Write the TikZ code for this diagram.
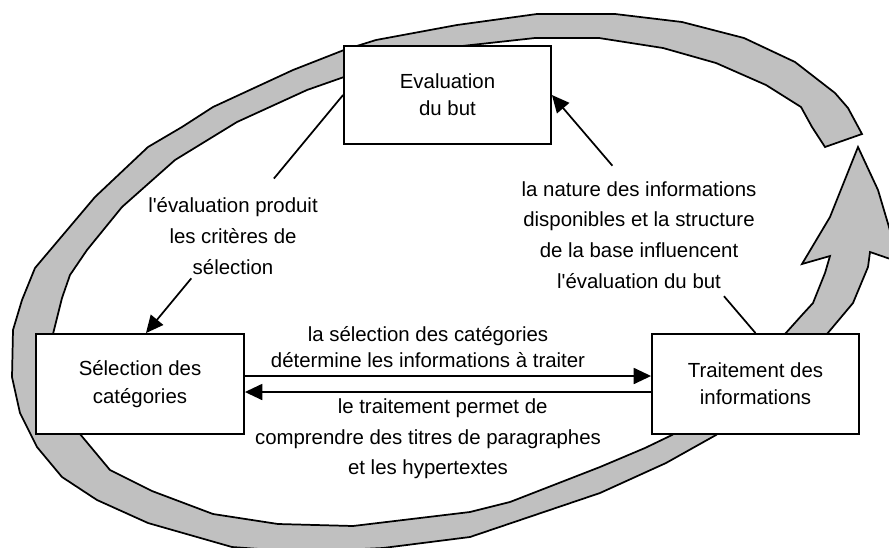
\documentclass[tikz,border=0pt]{standalone}
\usepackage{fontspec}
\setmainfont{Liberation Sans}[Ligatures=TeXOff]
\usetikzlibrary{arrows.meta,calc}
\definecolor{bandgrey}{RGB}{192,192,192}
\begin{document}
\begin{tikzpicture}[x=0.75pt,y=-0.75pt,
  box/.style={draw=black,line width=1.4pt,fill=white,align=center,inner sep=0pt,font=\fontsize{15.3}{20.5}\selectfont},
  lbl/.style={align=center,inner sep=1pt,font=\fontsize{15.3}{23}\selectfont},
  conn/.style={draw=black,line width=1.3pt},
  arr/.style={conn,-{Triangle[length=13pt,width=12pt]}},
  band/.style={draw=black,line width=1.3pt,fill=bandgrey,line join=miter}]
\useasboundingbox (0,0) rectangle (889,547);
\fill[white] (0,0) rectangle (889,547);
% big grey cycle arrow
\draw[band] (862,134) -- (848,108) -- (835,93) -- (795,62) -- (744,38) -- (682,22) -- (615,14) -- (537,14) -- (457,25) -- (376,40) -- (344,50) -- (293,70) -- (213,107) -- (182,127) -- (148,147) -- (95,197) -- (35,268) -- (22,300) -- (13,330) -- (12,377) -- (20,413) -- (37,447) -- (62,477) -- (97,500) -- (148,523) -- (232,547) -- (300,552) -- (383,548) -- (470,537) -- (600,493) -- (666,463) -- (716,435) -- (790,370) -- (827,334) -- (853,303) -- (868,267) -- (870,252) -- (899,262) -- (889,227) -- (878,190) -- (858,147) -- (830,217) -- (802,264) -- (830,256) -- (825,273) -- (813,303) -- (802,315) -- (785,334) -- (740,390) -- (672,435) -- (645,448) -- (600,467) -- (510,502) -- (470,512) -- (353,526) -- (278,524) -- (213,514) -- (152,491) -- (110,470) -- (80,434) -- (60,380) -- (53,334) -- (62,298) -- (70,275) -- (87,250) -- (122,207) -- (175,160) -- (237,122) -- (307,90) -- (344,77) -- (400,60) -- (453,47) -- (535,38) -- (599,38) -- (663,48) -- (716,63) -- (766,85) -- (801,107) -- (812,127) -- (825,147) -- cycle;
% boxes
\node[box,minimum width=155.25pt,minimum height=73.5pt] (eval) at (447.5,95) {Evaluation\\du but};
\node[box,minimum width=156pt,minimum height=75pt] (sel) at (140,384) {Sélection des\\catégories};
\node[box,minimum width=155.25pt,minimum height=75pt] (trait) at (755.5,384) {Traitement des\\informations};
% labels
\node[lbl] (lblL) at (233,236) {l'évaluation produit\\les critères de\\sélection};
\node[lbl] (lblR) at (639,235) {la nature des informations\\disponibles et la structure\\de la base influencent\\l'évaluation du but};
\node[lbl,font=\fontsize{15.3}{19.5}\selectfont] (lblT) at (428,347) {la sélection des catégories\\détermine les informations à traiter};
\node[lbl] (lblB) at (428,439) {\hspace*{22pt}le traitement permet de\\comprendre des titres de paragraphes\\et les hypertextes};
% connectors
\draw[conn] (eval.west) -- ($(eval.west)!0.351!([xshift=4.5pt]sel.north)$);
\draw[arr] ($(eval.west)!0.77!([xshift=4.5pt]sel.north)$) -- ([xshift=4.5pt]sel.north);
\draw[conn] (trait.north) -- ($(trait.north)!0.155!(eval.east)$);
\draw[arr] ($(trait.north)!0.703!(eval.east)$) -- (eval.east);
\draw[arr] ([yshift=6pt]sel.east) -- ([yshift=6pt]trait.west);
\draw[arr] ([yshift=-6pt]trait.west) -- ([yshift=-6pt]sel.east);
\end{tikzpicture}
\end{document}
